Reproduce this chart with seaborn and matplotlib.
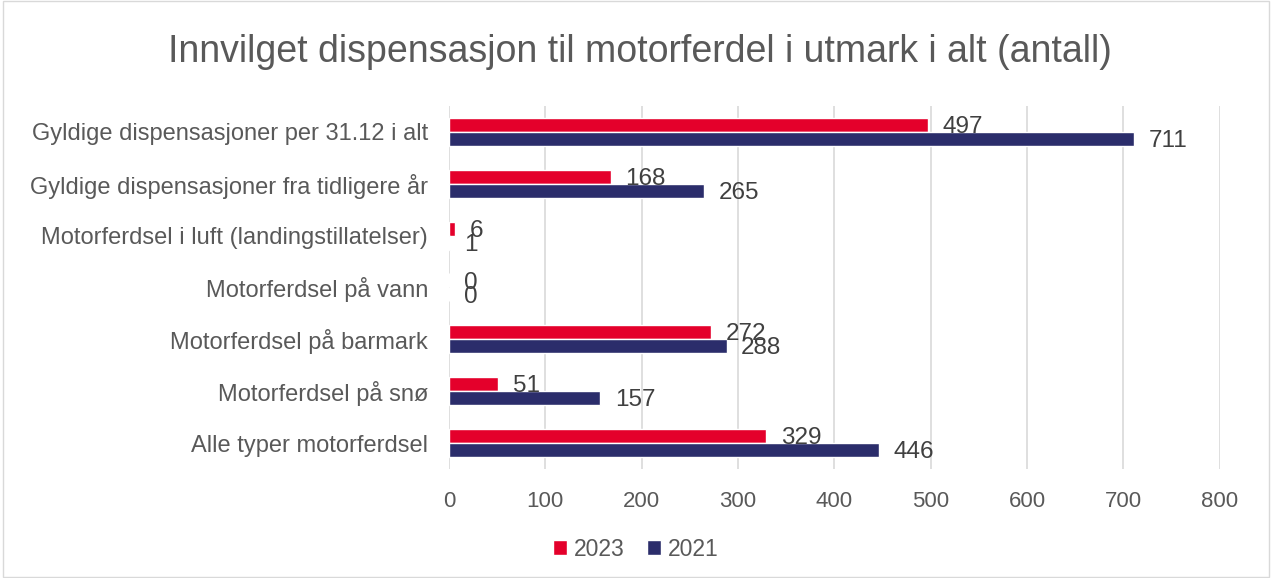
import pandas as pd
import numpy as np
import matplotlib.pyplot as plt
import seaborn as sns

# Chart data
categories = [
    'Gyldige dispensasjoner per 31.12 i alt',
    'Gyldige dispensasjoner fra tidligere år',
    'Motorferdsel i luft (landingstillatelser)',
    'Motorferdsel på vann',
    'Motorferdsel på barmark',
    'Motorferdsel på snø',
    'Alle typer motorferdsel',
]
values_2023 = [497, 168, 6, 0, 272, 51, 329]
values_2021 = [711, 265, 1, 0, 288, 157, 446]
years = ['2023', '2021']
x_ticks = [0, 100, 200, 300, 400, 500, 600, 700, 800]

df = pd.DataFrame({
    'Kategori': categories * 2,
    'År': ['2023'] * len(categories) + ['2021'] * len(categories),
    'Antall': values_2023 + values_2021,
})

sns.set_style('white')
plt.rcParams['font.family'] = ['Liberation Sans', 'DejaVu Sans']

fig = plt.figure(figsize=(12.72, 5.78), dpi=100)
ax = fig.add_axes([0.353, 0.1886, 0.606, 0.628])

palette = {'2023': '#E4002B', '2021': '#2B2D6B'}
sns.barplot(data=df, y='Kategori', x='Antall', hue='År', hue_order=years,
            order=categories, palette=palette, orient='h', width=0.54,
            gap=0, ax=ax, legend=True, saturation=1)

# Data labels
for cont in ax.containers:
    for rect in cont:
        w = rect.get_width()
        yc = rect.get_y() + rect.get_height() / 2
        ax.annotate(f'{int(w)}', xy=(w, yc), xytext=(10.5, -1.5),
                    textcoords='offset points', ha='left', va='center',
                    fontsize=17.5, color='#404040')

ax.set_xlim(0, 800)
ax.set_xticks(x_ticks)
ax.set_xticklabels([str(t) for t in x_ticks])
ax.set_ylim(6.5, -0.5)
ax.grid(axis='x', color='#d9d9d9', linewidth=1.2)
ax.set_axisbelow(True)
for s in ax.spines.values():
    s.set_visible(False)
ax.tick_params(axis='x', labelsize=16, labelcolor='#595959', length=0, pad=16)
ax.tick_params(axis='y', labelsize=17, labelcolor='#595959', length=0, pad=15)
ax.set_xlabel('')
ax.set_ylabel('')

fig.suptitle('Innvilget dispensasjon til motorferdel i utmark i alt (antall)',
             x=0.503, y=0.91, va='center', fontsize=27, color='#595959')

handles, labels = ax.get_legend_handles_labels()
ax.legend_.remove()
fig.legend(handles, labels, loc='center', bbox_to_anchor=(0.5, 0.05), ncol=2,
           frameon=False, fontsize=16.5, handlelength=0.6, handleheight=0.6,
           handletextpad=0.3, columnspacing=1.0, labelcolor='#595959')

# light border around figure
fig.patches.append(plt.Rectangle((0.002, 0.002), 0.996, 0.996, transform=fig.transFigure,
                                 fill=False, edgecolor='#d9d9d9', linewidth=1))

fig.savefig('out.png', dpi=100)
